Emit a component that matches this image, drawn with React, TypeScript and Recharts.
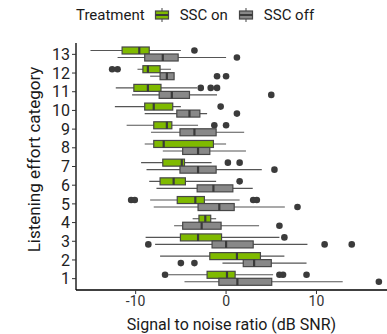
import { ComposedChart, Bar, XAxis, YAxis } from "recharts";

// listening effort categories, bottom (1) to top (13)
const categories = ["1", "2", "3", "4", "5", "6", "7", "8", "9", "10", "11", "12", "13"];

// SSC on
const onLow = [-6.4, -7.3, -8.9, -3.7, -8.4, -8.5, -9.4, -9.0, -11.0, -12.3, -12.2, -9.8, -15.0];
const onQ1 = [-2.1, -1.8, -5.05, -3.0, -5.4, -7.3, -7.0, -8.0, -8.0, -9.0, -10.2, -9.2, -11.5];
const onMedian = [0.1, 1.2, -3.1, -2.3, -3.4, -5.8, -4.9, -6.9, -6.55, -8.0, -8.65, -8.65, -9.6];
const onQ3 = [1.0, 3.8, -0.5, -1.7, -2.4, -4.5, -4.6, -1.4, -6.0, -5.9, -7.2, -7.3, -8.5];
const onHigh = [5.2, 6.45, 5.9, -1.1, 1.5, -1.1, -1.6, 0.0, -3.1, -5.0, -3.2, -6.1, -5.0];
const onOutliers = [
  [-6.75, 5.9, 6.3, 8.9],
  [],
  [6.45],
  [],
  [-10.5, -10.1, 3.0, 3.4],
  [1.5],
  [0.2, 1.5],
  [],
  [-1.3, 0.0],
  [-0.6],
  [-2.8, -1.7, -1.0],
  [-12.6, -12.0],
  [-3.5],
];

// SSC off
const offLow = [-4.6, -0.4, -7.85, -5.75, -8.0, -7.7, -8.8, -7.0, -8.3, -9.0, -10.4, -8.4, -12.0];
const offQ1 = [-0.8, 1.9, -1.55, -4.8, -3.1, -3.2, -5.1, -4.8, -5.1, -5.45, -7.4, -7.3, -9.0];
const offMedian = [1.25, 3.1, 0.0, -2.7, -0.75, -1.4, -3.1, -3.1, -3.5, -4.05, -6.0, -6.55, -7.0];
const offQ3 = [5.05, 5.0, 3.0, -0.55, 0.9, 0.75, -1.1, -1.8, -1.1, -2.9, -4.05, -5.75, -5.3];
const offHigh = [12.9, 8.9, 9.0, 3.65, 6.5, 2.95, 3.95, 2.2, 2.0, -2.1, -1.0, -5.75, 0.0];
const offOutliers = [
  [16.9],
  [-5.0, -3.5],
  [-8.6, 10.9, 13.9],
  [5.9],
  [7.9],
  [],
  [5.35],
  [],
  [],
  [1.2],
  [5.0],
  [-1.0, 0.0],
  [1.2],
];

const xTicks = [-10, 0, 10];

const GREEN = "#7fba00";
const GREY = "#888888";
const EDGE = "#474747";
const FONT = "Roboto, 'Liberation Sans', sans-serif";

type Stats = { lo: number; q1: number; med: number; q3: number; hi: number; out: number[] };

const rows = categories
  .map((cat, i) => ({
    cat,
    on: { lo: onLow[i], q1: onQ1[i], med: onMedian[i], q3: onQ3[i], hi: onHigh[i], out: onOutliers[i] },
    off: { lo: offLow[i], q1: offQ1[i], med: offMedian[i], q3: offQ3[i], hi: offHigh[i], out: offOutliers[i] },
  }))
  .reverse();

// bar spans the whisker range; box, median and outliers placed on the same scale
function BoxShape(props: any) {
  const { x, y, width, height, stats, fill } = props;
  const s: Stats = stats;
  const k = width / (s.hi - s.lo || 1);
  const px = (v: number) => x + (v - s.lo) * k;
  const cy = y + height / 2;
  return (
    <g>
      <line x1={px(s.lo)} x2={px(s.hi)} y1={cy} y2={cy} stroke="#555" strokeWidth={1.1} />
      <rect
        x={px(s.q1)}
        y={y}
        width={px(s.q3) - px(s.q1)}
        height={height}
        fill={fill}
        stroke={EDGE}
        strokeWidth={1.2}
      />
      <line x1={px(s.med)} x2={px(s.med)} y1={y} y2={y + height} stroke="#3a3a3a" strokeWidth={2.2} />
      {s.out.map((v, j) => (
        <circle key={j} cx={px(v)} cy={cy} r={3.3} fill="#3b3b3b" />
      ))}
    </g>
  );
}

function LegendKey({ fill }: { fill: string }) {
  return (
    <svg width={16} height={14} style={{ verticalAlign: "middle" }}>
      <line x1={8} x2={8} y1={0} y2={14} stroke="#555" strokeWidth={1.1} />
      <rect x={1.5} y={3} width={13} height={8} fill={fill} stroke={EDGE} strokeWidth={1.2} />
      <line x1={1.5} x2={14.5} y1={7} y2={7} stroke="#3a3a3a" strokeWidth={2} />
    </svg>
  );
}

function YTitle(props: any) {
  const vb = props.viewBox;
  const cx = vb.x + 34;
  const cy = vb.y + vb.height / 2 - 7;
  return (
    <text
      x={cx}
      y={cy}
      transform={`rotate(-90, ${cx}, ${cy})`}
      textAnchor="middle"
      dominantBaseline="central"
      fontSize={17}
      fontFamily={FONT}
      fill="#1a1a1a"
    >
      Listening effort category
    </text>
  );
}

export default function App() {
  return (
    <div style={{ position: "absolute", left: 0, top: 0, width: 387, height: 334, overflow: "hidden", background: "#fff" }}>
      <div
        style={{
          position: "absolute",
          left: 76,
          top: 6,
          fontFamily: FONT,
          fontSize: 15,
          color: "#1a1a1a",
          display: "flex",
          alignItems: "center",
          whiteSpace: "nowrap",
        }}
      >
        <span style={{ marginRight: 9 }}>Treatment</span>
        <LegendKey fill={GREEN} />
        <span style={{ marginLeft: 10, marginRight: 10 }}>SSC on</span>
        <LegendKey fill={GREY} />
        <span style={{ marginLeft: 10 }}>SSC off</span>
      </div>
      <ComposedChart
        width={387}
        height={334}
        data={rows}
        layout="vertical"
        margin={{ top: 43, right: 0, bottom: 0, left: 0 }}
        barGap={0}
        barSize={7}
      >
        <XAxis
          type="number"
          domain={[-16.6, 17.8]}
          ticks={xTicks}
          allowDataOverflow
          height={44}
          tickSize={4}
          axisLine={{ stroke: "#000", strokeWidth: 1.3 }}
          tickLine={{ stroke: "#333" }}
          tick={{ fontSize: 14, fontFamily: FONT, fill: "#333" }}
          label={{
            value: "Signal to noise ratio (dB SNR)",
            position: "insideBottom",
            offset: 4,
            style: { fontSize: 16, fontFamily: FONT, fill: "#1a1a1a" },
          }}
        />
        <YAxis
          type="category"
          dataKey="cat"
          width={76}
          tickSize={4}
          interval={0}
          padding={{ top: 2, bottom: 2 }}
          axisLine={{ stroke: "#000", strokeWidth: 1.3 }}
          tickLine={{ stroke: "#333" }}
          tick={{ fontSize: 16, fontFamily: FONT, fill: "#222" }}
          label={<YTitle />}
        />
        <Bar
          dataKey={(d: any) => [d.on.lo, d.on.hi]}
          isAnimationActive={false}
          shape={(p: any) => <BoxShape {...p} stats={p.payload.on} fill={GREEN} />}
        />
        <Bar
          dataKey={(d: any) => [d.off.lo, d.off.hi]}
          isAnimationActive={false}
          shape={(p: any) => <BoxShape {...p} stats={p.payload.off} fill={GREY} />}
        />
      </ComposedChart>
    </div>
  );
}
